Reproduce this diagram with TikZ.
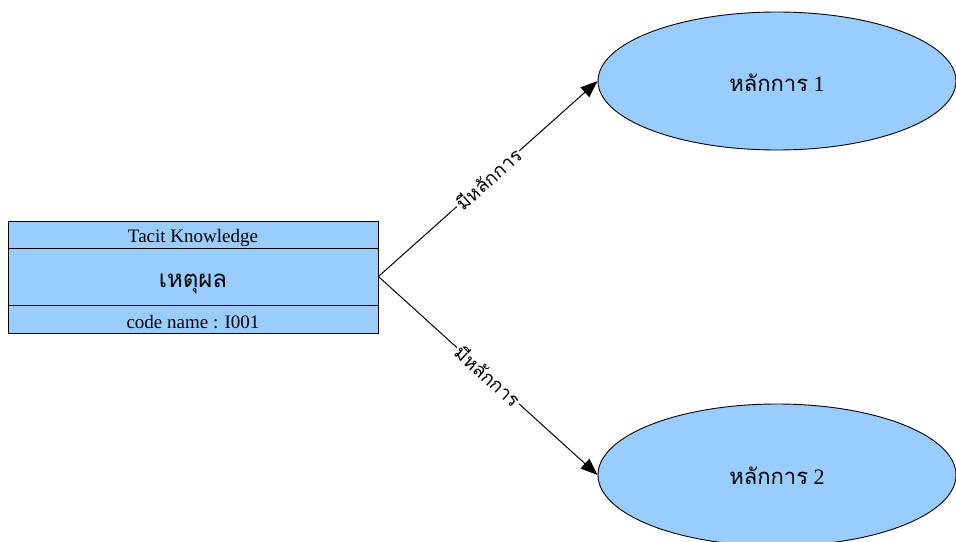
\documentclass[tikz,border=0pt]{standalone}
\usepackage{fontspec}
\setmainfont{Liberation Serif}
\newfontfamily\thaifont[Script=Thai]{Loma}
\usetikzlibrary{arrows.meta,shapes.geometric}
\definecolor{boxblue}{HTML}{99CCFF}
\newcommand{\lowered}[2]{\raisebox{-#1}[\height][\depth]{#2}}
\begin{document}
\begin{tikzpicture}[x=1pt,y=-1pt,
  cell/.style={draw=black, line width=0.9pt, fill=boxblue, minimum width=370pt, inner sep=0pt, anchor=center},
  principle/.style={ellipse, draw=black, line width=0.9pt, fill=boxblue, minimum width=358pt, inner sep=0pt, font=\fontsize{22}{26}\selectfont},
  conn/.style={draw=black, line width=1pt, -{Triangle[length=17pt,width=13pt]}},
  lab/.style={fill=white, inner sep=1.5pt, font=\thaifont\fontsize{19}{22}\selectfont, sloped}
]
\useasboundingbox (0,0) rectangle (956,541);
\fill[white] (0,0) rectangle (956,541);

\node[cell, minimum height=27pt, font=\fontsize{19}{22}\selectfont] (title) at (193,234.5) {\lowered{3.5pt}{Tacit Knowledge}};
\node[cell, minimum height=57pt, font=\thaifont\fontsize{24}{28}\selectfont] (mid) at (193,276.5) {\lowered{7pt}{เหตุผล}};
\node[cell, minimum height=28pt, font=\fontsize{19}{22}\selectfont] (code) at (193,319) {\lowered{3pt}{code name : I001}};

\node[principle, minimum height=138pt] (p1) at (777,81) {\lowered{2pt}{{\thaifont หลักการ} 1}};
\node[principle, minimum height=142pt] (p2) at (777,475) {\lowered{1pt}{{\thaifont หลักการ} 2}};

\draw[conn] (mid.east) -- node[lab] {มีหลักการ} (p1.west);
\draw[conn] (mid.east) -- node[lab] {มีหลักการ} (p2.west);
\end{tikzpicture}
\end{document}
